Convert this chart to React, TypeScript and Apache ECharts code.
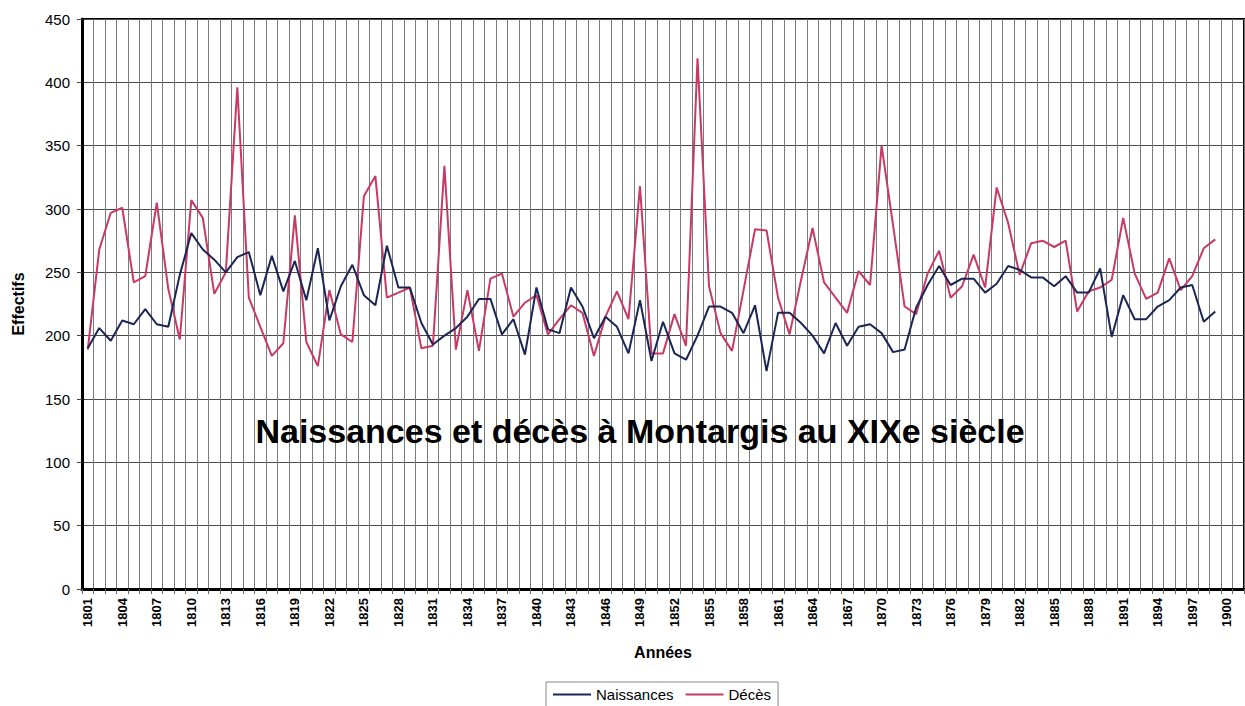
import React, { useEffect, useRef } from "react";
import * as echarts from "echarts";

const years: string[] = [];
for (let y = 1801; y <= 1901; y++) years.push(String(y));

const naissances: (number | null)[] = [
  190, 206, 196, 212, 209, 221, 209, 207, 248, 281,
  268, 260, 250, 262, 266, 232, 263, 235, 259, 228,
  269, 212, 239, 256, 232, 224, 271, 238, 238, 210,
  193, 200, 206, 215, 229, 229, 201, 213, 185, 238,
  205, 202, 238, 223, 198, 215, 207, 186, 228, 180,
  211, 186, 181, 200, 223, 223, 218, 202, 224, 172,
  218, 218, 210, 200, 186, 210, 192, 207, 209, 202,
  187, 189, 222, 240, 255, 240, 245, 245, 234, 241,
  255, 252, 246, 246, 239, 247, 234, 234, 253, 199,
  232, 213, 213, 223, 228, 238, 240, 211, 219, null, null,
];

const deces: (number | null)[] = [
  189, 268, 297, 301, 242, 247, 305, 237, 197, 307,
  293, 233, 250, 396, 230, 207, 184, 194, 295, 195,
  176, 236, 201, 195, 310, 326, 230, 234, 238, 190,
  192, 334, 189, 236, 188, 245, 249, 215, 226, 232,
  201, 213, 224, 218, 184, 215, 235, 213, 318, 186,
  186, 217, 192, 419, 239, 202, 188, 236, 284, 283,
  230, 201, 244, 285, 242, 230, 218, 251, 240, 350,
  287, 223, 217, 249, 267, 230, 239, 264, 238, 317,
  289, 248, 273, 275, 270, 275, 219, 235, 238, 244,
  293, 249, 229, 234, 261, 236, 247, 269, 276, null, null,
];

const yTicks = { min: 0, max: 450, interval: 50 };

export default function App() {
  const ref = useRef<HTMLDivElement>(null);
  useEffect(() => {
    if (!ref.current) return;
    const chart = echarts.init(ref.current, undefined, { renderer: "svg" });
    chart.setOption({
      animation: false,
      backgroundColor: "#ffffff",
      textStyle: { fontFamily: "Liberation Sans, Arial, sans-serif" },
      grid: {
        left: 82,
        top: 19,
        right: 1,
        bottom: 117,
        show: true,
        borderColor: "#000",
        borderWidth: 2,
        backgroundColor: "transparent",
      },
      graphic: [
        {
          type: "text",
          x: 640,
          y: 431,
          z: 100,
          style: {
            text: "Naissances et décès à Montargis au XIXe siècle",
            font: "bold 34px 'Liberation Sans', Arial, sans-serif",
            fill: "#000",
            align: "center",
            verticalAlign: "middle",
          },
        },
      ],
      legend: {
        top: 682,
        left: 546,
        icon: "rect",
        itemWidth: 38,
        itemHeight: 2,
        itemGap: 12,
        padding: [5, 7, 5, 7],
        borderColor: "#888",
        borderWidth: 1,
        textStyle: { fontSize: 15, color: "#000", fontFamily: "Liberation Sans, Arial, sans-serif" },
        data: ["Naissances", "Décès"],
      },
      xAxis: {
        type: "category",
        data: years,
        boundaryGap: true,
        name: "Années",
        nameLocation: "middle",
        nameGap: 55,
        nameTextStyle: { fontWeight: "bold", fontSize: 16, color: "#000" },
        axisLine: { lineStyle: { color: "#000", width: 3 } },
        axisTick: { show: true, interval: 0, length: 5, lineStyle: { color: "#666" } },
        axisLabel: {
          interval: 2,
          rotate: 90,
          fontSize: 13,
          fontWeight: "bold",
          color: "#000",
          margin: 9,
        },
        splitLine: { show: true, interval: 0, lineStyle: { color: "#7a7a7a", width: 1 } },
      },
      yAxis: {
        type: "value",
        min: yTicks.min,
        max: yTicks.max,
        interval: yTicks.interval,
        name: "Effectifs",
        nameLocation: "middle",
        nameGap: 56,
        nameTextStyle: { fontWeight: "bold", fontSize: 16, color: "#000" },
        axisLine: { show: true, lineStyle: { color: "#000", width: 3 } },
        axisTick: { show: true, length: 5, lineStyle: { color: "#444" } },
        axisLabel: { fontSize: 15, color: "#000", margin: 12 },
        splitLine: { show: true, lineStyle: { color: "#4a4a4a", width: 1 } },
      },
      series: [
        {
          name: "Naissances",
          type: "line",
          data: naissances,
          symbol: "none",
          lineStyle: { color: "#1b2656", width: 2 },
          itemStyle: { color: "#1b2656" },
          z: 3,
        },
        {
          name: "Décès",
          type: "line",
          data: deces,
          symbol: "none",
          lineStyle: { color: "#c73a64", width: 2 },
          itemStyle: { color: "#c73a64" },
          z: 2,
        },
      ],
    });
    return () => chart.dispose();
  }, []);
  return (
    <div style={{ position: "fixed", left: 0, top: 0, width: 1245, height: 706, background: "#fff" }}>
      <div ref={ref} style={{ width: 1245, height: 706 }} />
    </div>
  );
}
